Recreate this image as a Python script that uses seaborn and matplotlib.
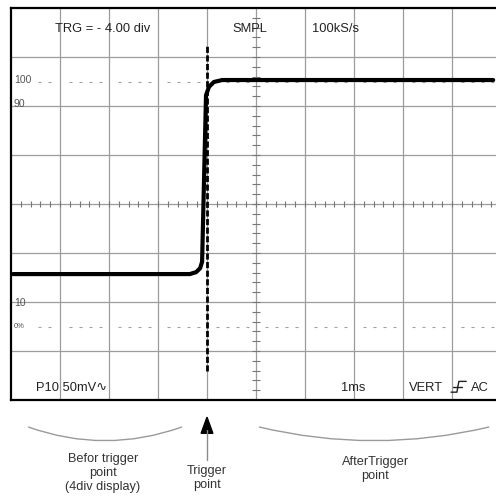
"""
Oscilloscope screen: trigger position of -4.00 div (pre-trigger display).
"""
import numpy as np
import pandas as pd
import matplotlib
matplotlib.use("Agg")
import matplotlib.pyplot as plt
from matplotlib.path import Path
from matplotlib.patches import PathPatch, Polygon
import seaborn as sns

sns.set_style("white")
plt.rcParams["font.family"] = ["Liberation Sans", "DejaVu Sans"]

# ── data (x in divisions, y in divisions from the bottom) ────────────────────
signal_t = [0.04, 3.65, 3.78, 3.86, 3.90, 3.98, 4.04, 4.14, 4.31, 9.84]
signal_v = [2.57, 2.57, 2.61, 2.69, 2.82, 6.22, 6.39, 6.49, 6.53, 6.53]

trigger_x = 4.0
trigger_span = [0.6, 7.25]

level_100 = 6.5     # 100 % reference
level_0 = 1.5       # 0 % reference
level_labels = ["100", "90", "10", "0%"]
level_label_y = [6.53, 6.04, 1.98, 1.49]
level_label_size = [7.5, 7.5, 7.5, 5.5]

n_xdiv, n_ydiv = 10, 8

header_texts = ["TRG = - 4.00 div", "SMPL", "100kS/s"]
header_x = [0.9, 4.51, 6.14]

footer_texts = ["P10 50mV\u223f", "1ms", "VERT", "AC"]
footer_x = [0.51, 6.73, 8.12, 9.39]

region_labels = ["Befor trigger\npoint\n(4div display)", "Trigger\npoint", "AfterTrigger\npoint"]
region_x = [1.88, 4.0, 7.43]
region_y = [-1.49, -1.59, -1.41]

arc_spans = [(0.35, 3.49), (5.06, 9.76)]

# ── figure ───────────────────────────────────────────────────────────────────
fig = plt.figure(figsize=(4.96, 4.97), dpi=100)
ax = fig.add_axes([11 / 496, 97 / 497, 490 / 496, 392 / 497])
ax.set_xlim(0, n_xdiv)
ax.set_ylim(0, n_ydiv)
ax.set_xticks([])
ax.set_yticks([])
for side in ["left", "top", "bottom", "right"]:
    ax.spines[side].set_linewidth(1.6)
    ax.spines[side].set_color("black")

grid_c = "#9c9c9c"
for i in range(1, n_xdiv):
    ax.axvline(i, color=grid_c, lw=0.9, zorder=1)
for j in range(1, n_ydiv):
    ax.axhline(j, color=grid_c, lw=0.9, zorder=1)

# centre cross minor ticks
minor_x = np.arange(0.2, n_xdiv, 0.2)
minor_y = np.arange(0.2, n_ydiv, 0.2)
ax.vlines(minor_x, 4 - 0.07, 4 + 0.07, color="#777777", lw=0.8, zorder=1)
ax.hlines(minor_y, 5 - 0.08, 5 + 0.08, color="#777777", lw=0.8, zorder=1)

# 100 % and 0 % dotted reference lines
for lvl in [level_100, level_0]:
    for i in range(n_xdiv):
        x0 = 0.55 if i == 0 else i + 0.18
        ax.plot([x0, i + 0.85], [lvl, lvl], color="#a0a0a0", lw=0.8,
                linestyle=(0, (2.7, 6.3)), zorder=1)

for lab, yv, fs in zip(level_labels, level_label_y, level_label_size):
    ax.text(0.06, yv, lab, fontsize=fs, color="#555555", va="center", ha="left")

# trigger position
ax.plot([trigger_x, trigger_x], trigger_span, color="black", lw=2.0,
        linestyle=(0, (2.2, 0.9)), zorder=3)

# waveform
wave = pd.DataFrame({"t": signal_t, "v": signal_v})
sns.lineplot(data=wave, x="t", y="v", color="black", lw=3.0, sort=False,
             ax=ax, zorder=4)
ax.set_xlabel("")
ax.set_ylabel("")

# screen readouts
for txt, xv in zip(header_texts, header_x):
    ax.text(xv, 7.57, txt, fontsize=9.3, color="#222222", va="center", ha="left")
for txt, xv in zip(footer_texts, footer_x):
    ax.text(xv, 0.24, txt, fontsize=9.3, color="#222222", va="center", ha="left")

# trigger slope symbol
ax.plot([8.98, 9.1, 9.14, 9.29], [0.16, 0.16, 0.38, 0.38], color="#222222", lw=1.0)
ax.plot([9.03, 9.2], [0.27, 0.27], color="#222222", lw=1.0)

# ── annotations below the screen ─────────────────────────────────────────────
for x0, x1 in arc_spans:
    xm = (x0 + x1) / 2
    path = Path([(x0, -0.55), (xm, -1.11), (x1, -0.55)],
                [Path.MOVETO, Path.CURVE3, Path.CURVE3])
    ax.add_patch(PathPatch(path, fill=False, edgecolor="#9a9a9a", lw=1.0,
                           clip_on=False))

ax.plot([trigger_x, trigger_x], [-0.62, -1.22], color="#8a8a8a", lw=1.0,
        clip_on=False)
ax.add_patch(Polygon([(trigger_x, -0.35), (trigger_x - 0.12, -0.68),
                      (trigger_x + 0.12, -0.68)], closed=True,
                     facecolor="black", edgecolor="black", clip_on=False))

for txt, xv, yv in zip(region_labels, region_x, region_y):
    ax.text(xv, yv, txt, fontsize=9.2, color="#333333", ha="center",
            va="center", linespacing=1.25)

fig.savefig("out.png", dpi=100)
